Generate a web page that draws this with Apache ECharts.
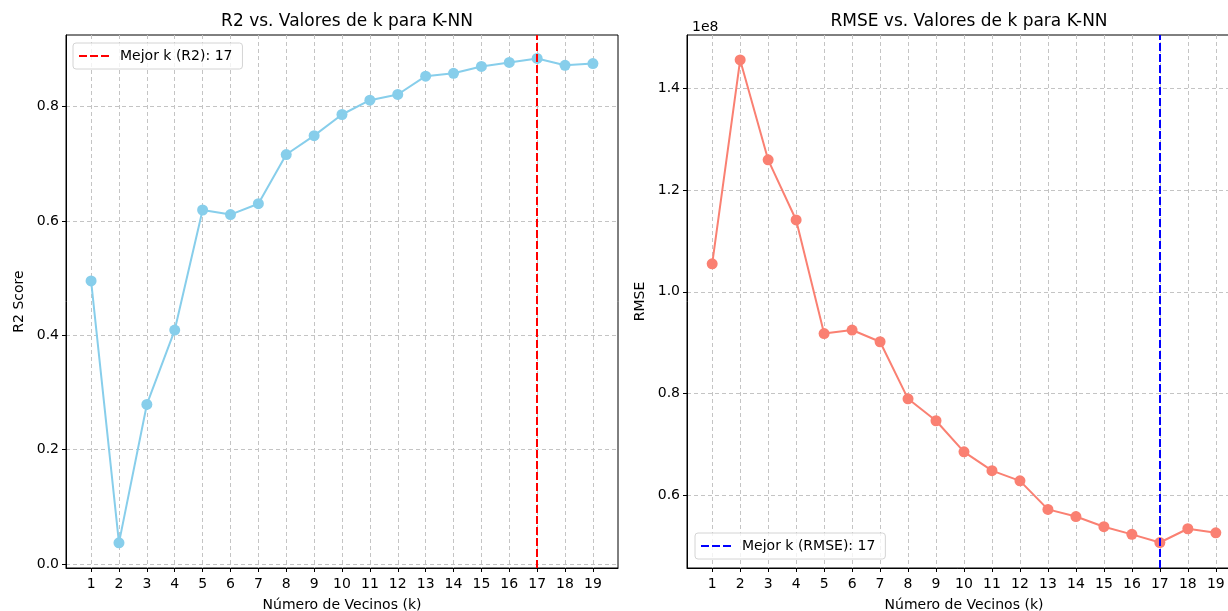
<!DOCTYPE html>
<html>
<head>
<meta charset="utf-8">
<script src="https://cdn.jsdelivr.net/npm/echarts@6/dist/echarts.min.js"></script>
<style>
  html, body { margin: 0; padding: 0; background: #fff; overflow: hidden; }
  #chart { width: 1228px; height: 611px; }
</style>
</head>
<body>
<div id="chart"></div>
<script>
// valores de k
const ks = [1, 2, 3, 4, 5, 6, 7, 8, 9, 10, 11, 12, 13, 14, 15, 16, 17, 18, 19]
// R2 por k
const r2Scores = [0.495, 0.037, 0.279, 0.409, 0.619, 0.611, 0.630, 0.716, 0.749, 0.786,
  0.811, 0.821, 0.853, 0.858, 0.870, 0.877, 0.884, 0.872, 0.875]
// RMSE por k
const rmseScores = [1.055e8, 1.455e8, 1.259e8, 1.141e8, 0.918e8, 0.925e8, 0.902e8, 0.790e8,
  0.747e8, 0.686e8, 0.649e8, 0.629e8, 0.573e8, 0.559e8, 0.539e8, 0.524e8, 0.508e8,
  0.535e8, 0.527e8]
const bestKR2 = 17
const bestKRmse = 17
const r2Ticks = [0, 0.2, 0.4, 0.6, 0.8]
const rmseTicks = [0.6e8, 0.8e8, 1.0e8, 1.2e8, 1.4e8]

const font = 'DejaVu Sans'
const gridLine = { show: true, lineStyle: { color: '#c4c4c4', type: [4, 3], width: 1 } }

function xAxisFor (gridIndex) {
  return {
    type: 'value',
    gridIndex,
    min: 0.1,
    max: 19.9,
    name: 'Número de Vecinos (k)',
    nameLocation: 'middle',
    nameGap: 30,
    nameTextStyle: { fontFamily: font, fontSize: 14, color: '#000' },
    axisLine: { show: true, onZero: false, lineStyle: { color: '#000', width: 1 } },
    axisTick: { show: true, customValues: ks, length: 4, lineStyle: { color: '#000' } },
    axisLabel: { customValues: ks, fontFamily: font, fontSize: 14, color: '#000', margin: 9 },
    splitLine: gridLine
  }
}

function yAxisFor (gridIndex, min, max, ticks, name, fmt) {
  return {
    type: 'value',
    gridIndex,
    min,
    max,
    name,
    nameLocation: 'middle',
    nameGap: 40,
    nameTextStyle: { fontFamily: font, fontSize: 14, color: '#000' },
    axisLine: { show: true, onZero: false, lineStyle: { color: '#000', width: 1 } },
    axisTick: { show: true, customValues: ticks, length: 4, lineStyle: { color: '#000' } },
    axisLabel: { customValues: ticks, formatter: fmt, fontFamily: font, fontSize: 14, color: '#000', margin: 7 },
    splitLine: gridLine
  }
}

function legendFor (name, color, pos) {
  return Object.assign({
    data: [{ name, lineStyle: { type: [8, 3], color, width: 2 }, itemStyle: { opacity: 0 } }],
    orient: 'vertical',
    itemWidth: 30,
    itemHeight: 10,
    itemGap: 0,
    padding: [6, 10, 6, 5],
    backgroundColor: 'rgba(255,255,255,0.8)',
    borderColor: '#d4d4d4',
    borderWidth: 1,
    borderRadius: 3,
    textStyle: { fontFamily: font, fontSize: 14, color: '#000', padding: [0, 0, 0, 6] }
  }, pos)
}

const chart = echarts.init(document.getElementById('chart'))
chart.setOption({
  animation: false,
  backgroundColor: '#fff',
  title: [
    { text: 'R2 vs. Valores de k para K-NN', left: 342, top: 8, textAlign: 'center',
      textStyle: { fontFamily: font, fontSize: 17, fontWeight: 'normal', color: '#000' } },
    { text: 'RMSE vs. Valores de k para K-NN', left: 964, top: 8, textAlign: 'center',
      textStyle: { fontFamily: font, fontSize: 17, fontWeight: 'normal', color: '#000' } },
    { text: '1e8', left: 687, top: 15,
      textStyle: { fontFamily: font, fontSize: 14, fontWeight: 'normal', color: '#000' } }
  ],
  grid: [
    { left: 66, top: 35, width: 552, height: 533, outerBoundsMode: 'none',
      show: true, borderColor: '#000', borderWidth: 1, backgroundColor: 'transparent' },
    { left: 687, top: 35, width: 554, height: 533, outerBoundsMode: 'none',
      show: true, borderColor: '#000', borderWidth: 1, backgroundColor: 'transparent' }
  ],
  legend: [
    legendFor('Mejor k (R2): 17', '#ff0000', { left: 73, top: 43 }),
    legendFor('Mejor k (RMSE): 17', '#0000ff', { left: 695, top: 533 })
  ],
  xAxis: [xAxisFor(0), xAxisFor(1)],
  yAxis: [
    yAxisFor(0, -0.007, 0.925, r2Ticks, 'R2 Score', v => v.toFixed(1)),
    yAxisFor(1, 0.458e8, 1.504e8, rmseTicks, 'RMSE', v => (v / 1e8).toFixed(1))
  ],
  series: [
    {
      type: 'line',
      xAxisIndex: 0,
      yAxisIndex: 0,
      data: ks.map((k, i) => [k, r2Scores[i]]),
      symbol: 'circle',
      symbolSize: 11,
      itemStyle: { color: '#87ceeb' },
      lineStyle: { color: '#87ceeb', width: 2 },
      z: 2
    },
    {
      name: 'Mejor k (R2): 17',
      type: 'line',
      xAxisIndex: 0,
      yAxisIndex: 0,
      data: [],
      symbol: 'none',
      itemStyle: { color: '#ff0000' },
      lineStyle: { color: '#ff0000', width: 2, type: [8, 3] },
      markLine: {
        silent: true,
        symbol: 'none',
        label: { show: false },
        lineStyle: { color: '#ff0000', width: 2, type: [8, 3] },
        data: [{ xAxis: bestKR2 }]
      },
      z: 3
    },
    {
      type: 'line',
      xAxisIndex: 1,
      yAxisIndex: 1,
      data: ks.map((k, i) => [k, rmseScores[i]]),
      symbol: 'circle',
      symbolSize: 11,
      itemStyle: { color: '#fa8072' },
      lineStyle: { color: '#fa8072', width: 2 },
      z: 2
    },
    {
      name: 'Mejor k (RMSE): 17',
      type: 'line',
      xAxisIndex: 1,
      yAxisIndex: 1,
      data: [],
      symbol: 'none',
      itemStyle: { color: '#0000ff' },
      lineStyle: { color: '#0000ff', width: 2, type: [8, 3] },
      markLine: {
        silent: true,
        symbol: 'none',
        label: { show: false },
        lineStyle: { color: '#0000ff', width: 2, type: [8, 3] },
        data: [{ xAxis: bestKRmse }]
      },
      z: 3
    }
  ]
})
</script>
</body>
</html>
